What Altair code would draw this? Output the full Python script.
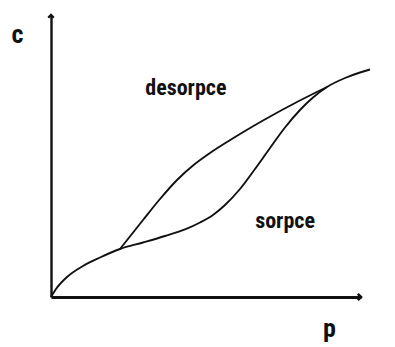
import altair as alt
import pandas as pd

# Sorption isotherm (lower branch), from the origin to the point where it closes
sorp_p = [0.0, 0.161, 0.516, 1.032, 1.581, 2.226, 2.968, 3.677, 4.323, 4.806, 5.226,
          5.613, 6.097, 6.581, 7.065, 7.548, 8.032, 8.452, 8.903, 9.484, 9.968, 10.29]
sorp_c = [0.0, 0.284, 0.709, 1.099, 1.401, 1.702, 1.933, 2.163, 2.394, 2.642, 2.908,
          3.262, 3.830, 4.539, 5.284, 6.011, 6.631, 7.074, 7.447, 7.766, 7.961, 8.067]

# Desorption branch (upper part of the hysteresis loop)
desorp_p = [2.226, 2.968, 3.516, 4.065, 4.581, 5.129, 5.677, 6.258, 6.839, 7.935, 8.903]
desorp_c = [1.702, 2.730, 3.475, 4.149, 4.663, 5.106, 5.496, 5.887, 6.259, 6.915, 7.447]

# Curve labels
label_text = ["desorpce", "sorpce"]
label_p = [4.35, 7.55]
label_c = [7.16, 2.45]

FONT = "Roboto Condensed, Liberation Sans Narrow, Liberation Sans, sans-serif"
INK = "#111111"

curves = pd.concat([
    pd.DataFrame({"p": sorp_p, "c": sorp_c, "branch": "sorpce"}),
    pd.DataFrame({"p": desorp_p, "c": desorp_c, "branch": "desorpce"}),
])
labels = pd.DataFrame({"text": label_text, "p": label_p, "c": label_c})

xscale = alt.Scale(domain=[0, 10], nice=False, zero=False)
yscale = alt.Scale(domain=[0, 10], nice=False, zero=False)

x_axis = alt.Axis(
    title="p", ticks=False, labels=False, grid=False,
    domainColor=INK, domainWidth=2.8,
    titleFont=FONT, titleFontSize=26, titleFontWeight="bold", titleColor=INK,
    titleX=278, titleY=39, titleAlign="center", titleBaseline="alphabetic",
)
y_axis = alt.Axis(
    title="c", ticks=False, labels=False, grid=False,
    domainColor=INK, domainWidth=2.4,
    titleFont=FONT, titleFontSize=26, titleFontWeight="bold", titleColor=INK,
    titleAngle=0, titleX=-34, titleY=27, titleAlign="center", titleBaseline="alphabetic",
)

lines = alt.Chart(curves).mark_line(
    color=INK, strokeWidth=1.9, interpolate="monotone"
).encode(
    x=alt.X("p:Q", scale=xscale, axis=x_axis),
    y=alt.Y("c:Q", scale=yscale, axis=y_axis),
    detail="branch:N",
)

text = alt.Chart(labels).mark_text(
    font=FONT, fontSize=22, fontWeight="bold", color=INK,
    align="center", baseline="alphabetic",
).encode(
    x=alt.X("p:Q", scale=xscale),
    y=alt.Y("c:Q", scale=yscale),
    text="text:N",
)

# Arrow heads at the ends of both axes
arrow_right = alt.Chart(pd.DataFrame({"a": [0]})).mark_point(
    shape="M -1 -1 L 0 0 L -1 1", size=40, filled=False,
    stroke=INK, strokeWidth=2.6, opacity=1,
).encode(x=alt.datum(10, scale=xscale), y=alt.datum(0, scale=yscale))

arrow_up = alt.Chart(pd.DataFrame({"a": [0]})).mark_point(
    shape="M -1 1 L 0 0 L 1 1", size=30, filled=False,
    stroke=INK, strokeWidth=2.4, opacity=1,
).encode(x=alt.datum(0, scale=xscale), y=alt.datum(10, scale=yscale))

chart = alt.layer(lines, text, arrow_right, arrow_up).properties(
    width=310,
    height=282,
    padding={"left": 51, "top": 15, "right": 34, "bottom": 50},
    autosize=alt.AutoSizeParams(type="none"),
    background="white",
).configure_view(stroke=None)

chart.save("out.html", embed_options={"renderer": "svg", "actions": False})
